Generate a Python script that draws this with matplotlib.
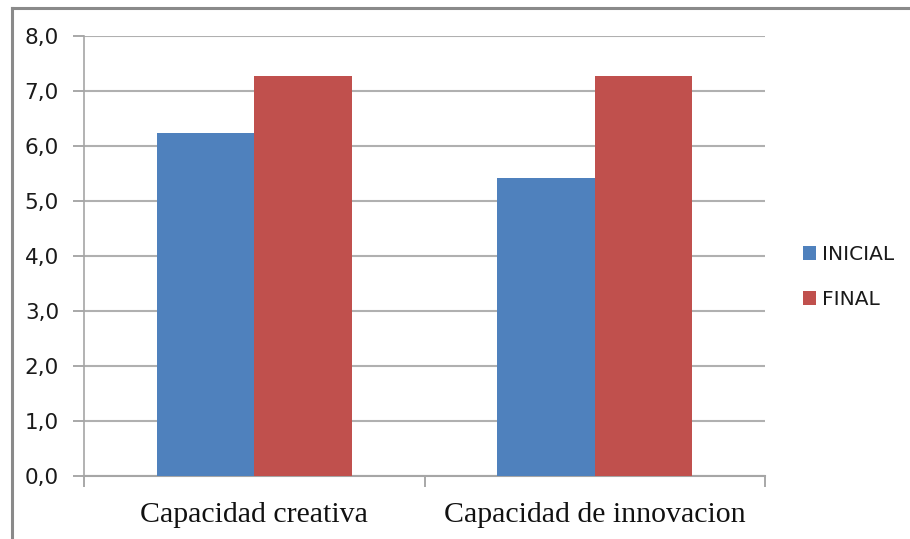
import numpy as np
import matplotlib
matplotlib.use("Agg")
import matplotlib.pyplot as plt
from matplotlib.lines import Line2D

categories = ["Capacidad creativa", "Capacidad de innovacion"]
series_names = ["INICIAL", "FINAL"]
inicial = [6.23, 5.41]
final = [7.27, 7.27]
yticks = [0, 1, 2, 3, 4, 5, 6, 7, 8]
ytick_labels = ["0,0", "1,0", "2,0", "3,0", "4,0", "5,0", "6,0", "7,0", "8,0"]
colors = ["#4F81BD", "#C0504D"]

W, H = 910, 539
fig = plt.figure(figsize=(W / 100, H / 100), dpi=100)
ax = fig.add_axes([84 / W, (H - 476) / H, (765 - 84) / W, (476 - 36) / H])

x = np.arange(len(categories))
bw = 1 / 3.5  # gap width 150%
for i, (vals, name) in enumerate(zip([inicial, final], series_names)):
    ax.bar(x + (i - 0.5) * bw, vals, width=bw, color=colors[i], label=name,
           edgecolor="none", zorder=3)

ax.set_xlim(-0.5, len(categories) - 0.5)
ax.set_ylim(0, 8)
ax.set_yticks(yticks)
ax.set_yticklabels(ytick_labels, family="DejaVu Sans", fontsize=15.5, color="#1a1a1a")
ax.yaxis.grid(True, color="#b0b0b0", linewidth=1.5, zorder=0)
ax.set_axisbelow(True)

# category labels centred, boundary ticks between categories
ax.set_xticks(x)
ax.set_xticklabels(categories, family="Liberation Serif", fontsize=21.5, color="#111111")
ax.tick_params(axis="x", length=0, pad=19)
ax.set_xticks([-0.5, 0.5, 1.5], minor=True)
ax.tick_params(axis="x", which="minor", length=8, color="#9a9a9a", width=1.2)
ax.tick_params(axis="y", length=8, color="#9a9a9a", width=1.2, pad=10)

for s in ["top", "right"]:
    ax.spines[s].set_visible(False)
ax.spines["left"].set_color("#a6a6a6")
ax.spines["left"].set_linewidth(1.2)
ax.spines["bottom"].set_color("#a6a6a6")
ax.spines["bottom"].set_linewidth(1.5)

leg = ax.legend(loc="center left", bbox_to_anchor=(785 / W, (H - 277) / H),
                bbox_transform=fig.transFigure, frameon=False,
                prop={"family": "DejaVu Sans", "size": 14.5},
                handlelength=0.65, handleheight=0.65, handletextpad=0.3,
                labelspacing=1.3)
for t in leg.get_texts():
    t.set_color("#1a1a1a")

# outer chart frame
fig.add_artist(Line2D([12 / W, 12 / W], [0, (H - 8) / H], transform=fig.transFigure,
                      color="#8a8a8a", linewidth=2.2))
fig.add_artist(Line2D([12 / W, 1], [(H - 8) / H, (H - 8) / H], transform=fig.transFigure,
                      color="#8a8a8a", linewidth=2.2))

fig.savefig("out.png", dpi=100, facecolor="white")
